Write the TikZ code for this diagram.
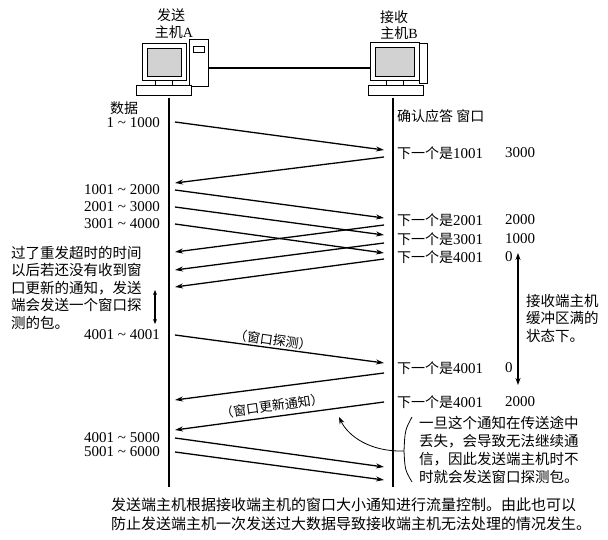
\documentclass[tikz,border=0pt]{standalone}
\usepackage{fontspec}
\setmainfont{Liberation Serif}
\newfontfamily\cjk{Noto Sans CJK SC}
\usetikzlibrary{arrows.meta}
\begin{document}
\begin{tikzpicture}[x=1pt,y=-1pt,
  txt/.style={font=\cjk\fontsize{14}{17}\selectfont,inner sep=0pt},
  para/.style={font=\cjk\fontsize{14.5}{17.5}\selectfont,inner sep=0pt,anchor=north west,align=left},
  num/.style={font=\fontsize{15}{17}\selectfont,inner sep=0pt},
  msg/.style={line width=1.3pt,-{Stealth[length=8pt,width=5pt]}},
  life/.style={line width=1.3pt},
  pc/.style={draw,line width=0.8pt,fill=white},
  scr/.style={draw,line width=0.8pt,fill=gray!35}]
\useasboundingbox (0,0) rectangle (608,540);
% computers
\draw[pc] (189,39) rectangle (208,86);
\draw[pc] (193,46) rectangle (204,52);
\draw[pc] (142,43) rectangle (186,80);
\draw[scr] (147,48) rectangle (181,76);
\draw[pc] (155,80) rectangle (172,85);
\draw[pc] (136,85) rectangle (191,95);
\draw[pc] (419,43) rectangle (427,83);
\draw[pc] (370,42) rectangle (419,80);
\draw[scr] (375,47) rectangle (414,76);
\draw[pc] (386,80) rectangle (403,85);
\draw[pc] (368,85) rectangle (423,95);
\coordinate (ca) at (208,68); \coordinate (cb) at (370,68);
\draw[line width=2.5pt] (ca) -- (cb);
\node[txt] (hA1) at (171,15) {发送};
\node[txt] (hA2) at (174,32) {主机\rmfamily A};
\node[txt] (hB1) at (394,17) {接收};
\node[txt] (hB2) at (399,33) {主机\rmfamily B};
% lifelines
\coordinate (a0) at (169,98); \coordinate (a1) at (169,487);
\coordinate (b0) at (393,98); \coordinate (b1) at (393,487);
\draw[life] (a0) -- (a1); \draw[life] (b0) -- (b1);
% left labels
\node[txt] (dl) at (124,108) {数据};
\node[num,anchor=east] (l1) at (160,123) {1 \textasciitilde{} 1000};
\node[num,anchor=east] (l2) at (160,190) {1001 \textasciitilde{} 2000};
\node[num,anchor=east] (l3) at (160,207) {2001 \textasciitilde{} 3000};
\node[num,anchor=east] (l4) at (160,224) {3001 \textasciitilde{} 4000};
\node[num,anchor=east] (l5) at (160,335) {4001 \textasciitilde{} 4001};
\node[num,anchor=east] (l6) at (160,438) {4001 \textasciitilde{} 5000};
\node[num,anchor=east] (l7) at (160,452) {5001 \textasciitilde{} 6000};
% right labels
\node[txt,anchor=west] (rh) at (397,116) {确认应答 窗口};
\foreach \n/\y/\a/\w in {r1/153/1001/3000,r2/220/2001/2000,r3/239/3001/1000,r4/257/4001/0,r5/368/4001/0,r6/402/4001/2000}{
  \node[txt,anchor=west] (\n) at (397,\y) {下一个是\rmfamily\fontsize{15}{17}\selectfont\a};
  \node[num,anchor=west] (\n w) at (505,\y) {\w};}
% messages
\foreach \ya/\yb in {122/150,190/218,207/235,224/253,335/363,438/467,452/480}
  \draw[msg] (175,\ya) -- (384,\yb);
\foreach \yb/\ya in {157/183,225/252,243/270,259/287,373/400,402/430}
  \draw[msg] (384,\yb) -- (175,\ya);
\node[txt,rotate=-8,font=\cjk\fontsize{13}{15}\selectfont] (probe) at (273,340) {（窗口探测）};
\node[txt,rotate=8,font=\cjk\fontsize{13}{15}\selectfont] (upd) at (272,406) {（窗口更新通知）};
% buffer full
\coordinate (v0) at (518,253); \coordinate (v1) at (518,385);
\draw[line width=1.2pt,{Stealth[length=7pt,width=5pt]}-{Stealth[length=7pt,width=5pt]}] (v0) -- (v1);
\node[para] (bf) at (526,294) {接收端主机\\缓冲区满的\\状态下。};
% left paragraph
\node[para] (lp) at (11,246) {过了重发超时的时间\\以后若还没有收到窗\\口更新的通知，发送\\端会发送一个窗口探\\测的包。};
\coordinate (d0) at (155,290); \coordinate (d1) at (155,324);
\draw[line width=1.2pt,{Stealth[length=5pt,width=4pt]}-{Stealth[length=5pt,width=4pt]}] (d0) -- (d1);
% lost note
\node[para,font=\cjk\fontsize{14.5}{18}\selectfont] (ln) at (419,416) {一旦这个通知在传送途中\\丢失，会导致无法继续通\\信，因此发送端主机时不\\时就会发送窗口探测包。};
\coordinate (br0) at (412,417); \coordinate (br1) at (412,482); \coordinate (bm) at (404,451);
\draw[line width=0.8pt] (br0) .. controls (405,430) .. (bm) .. controls (405,470) .. (br1);
\coordinate (ct) at (339,417);
\draw[line width=0.8pt,-{Stealth[length=7pt,width=5pt]}] (bm) .. controls (370,452) and (348,436) .. (ct);
% caption
\node[para,font=\cjk\fontsize{15}{18.5}\selectfont] (cap) at (111,498) {发送端主机根据接收端主机的窗口大小通知进行流量控制。由此也可以\\防止发送端主机一次发送过大数据导致接收端主机无法处理的情况发生。};
\end{tikzpicture}
\end{document}
